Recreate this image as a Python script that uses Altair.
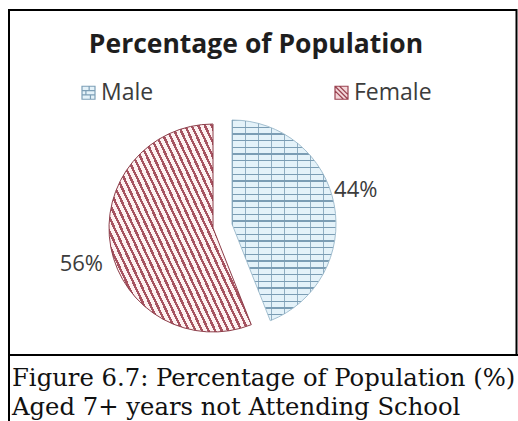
import math

import altair as alt
import pandas as pd

# Share of the population aged 7+ not attending school, by sex
categories = ["Male", "Female"]
percent = [44, 56]

chart_title = "Percentage of Population"
caption_lines = [
    "Figure 6.7: Percentage of Population (%)",
    "Aged 7+ years not Attending School",
]

df = pd.DataFrame({"Category": categories, "Percent": percent})


def stripe_fill(n, frac, ink, paper, x1, y1, x2, y2):
    """Linear gradient with hard stops, giving n evenly spaced stripes."""
    stops = []
    for k in range(n):
        a, b, c = k / n, (k + frac) / n, (k + 1) / n
        stops += [
            {"offset": a, "color": ink},
            {"offset": b, "color": ink},
            {"offset": b, "color": paper},
            {"offset": c, "color": paper},
        ]
    return {"gradient": "linear", "x1": x1, "y1": y1, "x2": x2, "y2": y2, "stops": stops}


R = 104
# pie centres (the Female wedge is pulled out to the left)
MALE_C = (232, 224)
FEMALE_C = (213, 228)

male_rows = stripe_fill(30, 0.2, "#7b9db4", "#e4f2f9", 0, 0, 0, 1)
male_joints = stripe_fill(8, 0.11, "#7b9db4", "rgba(255,255,255,0)", 0, 0, 1, 0)
female_hatch = stripe_fill(39, 0.4, "#a65260", "#fdf1f1", 0, 1, 1.231, 0.158)

theta_scale = alt.Scale(domain=[0, 100], range=[0, 2 * math.pi])

base = (
    alt.Chart(df)
    .transform_stack(
        stack="Percent",
        groupby=[],
        as_=["start", "end"],
        sort=[alt.SortField("Category", order="descending")],
    )
    .transform_calculate(mid="(datum.start + datum.end) / 2", label="datum.Percent + '%'")
)

male = base.transform_filter(alt.datum.Category == "Male")
female = base.transform_filter(alt.datum.Category == "Female")


def wedge(src, centre, fill, stroke=None, opacity=1.0):
    props = dict(radius=R, fill=fill, opacity=opacity)
    if stroke:
        props.update(stroke=stroke, strokeWidth=1.0)
    return src.mark_arc(**props).encode(
        theta=alt.Theta("start:Q", scale=theta_scale),
        theta2="end:Q",
        x=alt.value(centre[0]),
        y=alt.value(centre[1]),
    )


def pct_label(src, centre, radius, dy):
    return src.mark_text(
        radius=radius, dy=dy, font="Open Sans", fontSize=22, color="#3c3c3c"
    ).encode(
        theta=alt.Theta("mid:Q", scale=theta_scale, stack=False),
        text="label:N",
        x=alt.value(centre[0]),
        y=alt.value(centre[1]),
    )


male_wedge = wedge(male, MALE_C, male_rows, stroke="#a3bfd0")
male_wedge_joints = wedge(male, MALE_C, male_joints, opacity=0.8)
female_wedge = wedge(female, FEMALE_C, female_hatch, stroke="#8c3d49")

male_label = pct_label(male, MALE_C, 126, -10)
female_label = pct_label(female, FEMALE_C, 134, 11)

# legend icons: brick square and hatched square
male_icon = "M-1,-1H1V1H-1Z M-1,-0.33H1 M-1,0.33H1 M0.1,-1V-0.33 M-0.4,-0.33V0.33 M0.3,0.33V1"
female_icon = "M-1,-1H1V1H-1Z M-1,-1L1,1 M-1,-0.3L0.3,1 M-0.3,-1L1,0.3"

legend = alt.Legend(
    title=None,
    orient="none",
    legendX=77,
    legendY=81,
    direction="horizontal",
    columns=2,
    columnPadding=176,
    padding=0,
    symbolSize=169,
    symbolStrokeWidth=1.2,
    symbolOpacity=1,
    labelFont="Open Sans",
    labelFontSize=23,
    labelColor="#3c3c3c",
    labelOffset=1,
)

legend_layer = alt.Chart(df).mark_point(filled=True, opacity=0).encode(
    fill=alt.Fill("Category:N", scale=alt.Scale(domain=categories, range=["#e4f2f9", "#f3d6d9"]), legend=legend),
    stroke=alt.Stroke("Category:N", scale=alt.Scale(domain=categories, range=["#7d9fb6", "#9a4250"]), legend=legend),
    shape=alt.Shape("Category:N", scale=alt.Scale(domain=categories, range=[male_icon, female_icon]), legend=legend),
)

title_layer = alt.Chart(pd.DataFrame({"t": [chart_title]})).mark_text(
    font="Open Sans", fontWeight="bold", fontSize=26.5, color="#1e1e1e", baseline="alphabetic"
).encode(text="t:N", x=alt.value(256), y=alt.value(53))

caption_layer = alt.Chart(pd.DataFrame({"t": ["\n".join(caption_lines)]})).mark_text(
    font="DejaVu Serif",
    fontSize=24.3,
    color="#111111",
    align="left",
    baseline="alphabetic",
    lineBreak="\n",
    lineHeight=29,
).encode(text="t:N", x=alt.value(12), y=alt.value(386))

# table cells around the figure and its caption; the caption cell runs off the page
frame_src = alt.Chart(pd.DataFrame({"k": [0]}))


def cell(x2, y, y2):
    return frame_src.mark_rect(fillOpacity=0, stroke="black", strokeWidth=2).encode(
        x=alt.value(9), x2=alt.value(x2), y=alt.value(y), y2=alt.value(y2)
    )


figure_cell = cell(516.5, 10, 355)
caption_cell = cell(540, 355, 440)

chart = (
    alt.layer(
        figure_cell,
        caption_cell,
        male_wedge,
        male_wedge_joints,
        female_wedge,
        male_label,
        female_label,
        legend_layer,
        title_layer,
        caption_layer,
    )
    .properties(width=518, height=421, padding=0, autosize=alt.AutoSizeParams(type="none"), background="white")
    .configure_view(strokeWidth=0)
)

chart.save("out.html", embed_options={"renderer": "svg", "actions": False})
